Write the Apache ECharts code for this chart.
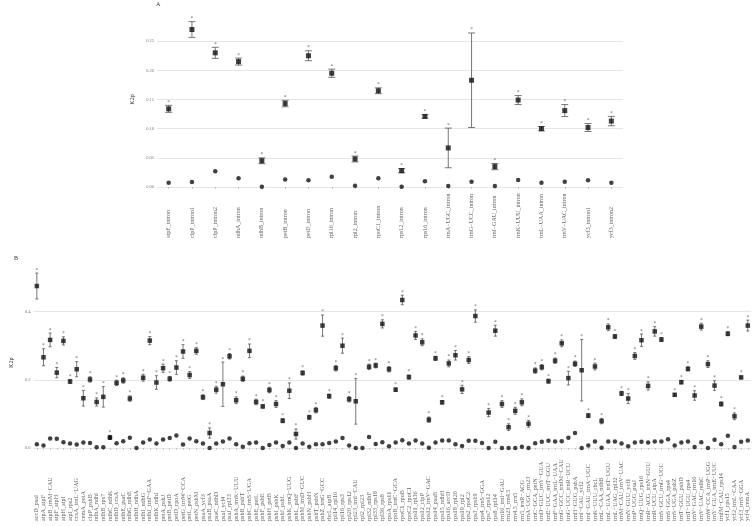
<!DOCTYPE html>
<html>
<head>
<meta charset="utf-8">
<title>K2p</title>
<script src="https://cdn.jsdelivr.net/npm/echarts@6/dist/echarts.min.js"></script>
<style>
  html, body { margin: 0; padding: 0; background: #fff; }
  #main { width: 752px; height: 526px; }
</style>
</head>
<body>
<div id="main"></div>
<script>
// panel A: introns
var aCats = ['atpF_intron', 'clpP_intron1', 'clpP_intron2', 'ndhA_intron', 'ndhB_intron', 'petB_intron',
  'petD_intron', 'rpl16_intron', 'rpl2_intron', 'rpoC1_intron', 'rps12_intron', 'rps16_intron',
  'trnA−UGC_intron', 'trnG−UCC_intron', 'trnI−GAU_intron', 'trnK−UUU_intron', 'trnL−UAA_intron',
  'trnV−UAC_intron', 'ycf3_intron1', 'ycf3_intron2'];
var aMean = [0.134, 0.270, 0.230, 0.215, 0.045, 0.143, 0.225, 0.195, 0.048, 0.165,
  0.028, 0.121, 0.067, 0.183, 0.035, 0.149, 0.100, 0.131, 0.102, 0.113];
var aSe = [0.006, 0.0135, 0.0095, 0.006, 0.005, 0.0055, 0.0085, 0.007, 0.005, 0.005,
  0.0037, 0.003, 0.034, 0.081, 0.0053, 0.0077, 0.0037, 0.0103, 0.0068, 0.008];
var aLow = [0.0074, 0.0086, 0.027, 0.0149, 0.0006, 0.013, 0.0114, 0.0177, 0.0023, 0.015,
  0.0006, 0.0097, 0.0017, 0.0091, 0.0017, 0.012, 0.0074, 0.009, 0.0114, 0.0074];

// panel B: intergenic spacers
var bCats = ['accD_psaI', 'atpA_atpF', 'atpB_trnM−CAU', 'atpF_atpH', 'atpH_atpI', 'atpI_rps2',
  'ccsA_trnL−UAG', 'cemA_petA', 'clpP_psbB', 'ndhA_ndhI', 'ndhB_rps7', 'ndhC_ndhK', 'ndhD_ccsA',
  'ndhE_psaC', 'ndhG_ndhE', 'ndhH_ndhA', 'ndhI_ndhG', 'ndhJ_trnF−GAA', 'ndhK_ndhJ', 'petA_psbJ',
  'petB_petD', 'petD_rpoA', 'petG_trnW−CCA', 'petL_petG', 'petN_psbM', 'psaA_ycf3', 'psaB_psaA',
  'psaC_ndhD', 'psaI_ycf4', 'psaJ_rpl33', 'psbA_trnK−UUU', 'psbB_psbT', 'psbC_trnS−UGA',
  'psbE_petL', 'psbF_psbE', 'psbH_petB', 'psbI_psbK', 'psbJ_psbL', 'psbK_trnQ−UUG', 'psbL_psbF',
  'psbM_trnD−GUC', 'psbN_psbH', 'psbT_psbN', 'psbZ_trnG−GCC', 'rbcL_atpB', 'rpl14_rpl16',
  'rpl16_rps3', 'rpl20_rps12', 'rpl23_trnI−CAU', 'rpl2_rpl23', 'rpl32_ndhF', 'rpl33_rps18',
  'rpl36_rps8', 'rpoA_rps11', 'rpoB_trnC−GCA', 'rpoC1_rpoB', 'rpoC2_rpoC1', 'rps11_rpl36',
  'rps12_clpP', 'rps12_trnV−GAC', 'rps14_psaB', 'rps15_ndhH', 'rps16_accD', 'rps18_rpl20',
  'rps19_rpl2', 'rps2_rpoC2', 'rps3_rps19', 'rps4_trnS−GGA', 'rps7_rps12', 'rps8_rpl14',
  'rrn16_trnI−GAU', 'rrn23_rrn4.5', 'rrn4.5_rrn5', 'rrn5_trnR−ACG', 'trnA−UGC_rrn23',
  'trnC−GCA_petN', 'trnD−GUC_trnY−GUA', 'trnE−UUC_trnT−GGU', 'trnF−GAA_trnL−UAA',
  'trnG−GCC_trnfM−CAU', 'trnG−UCC_trnR−UCU', 'trnH−GUG_psbA', 'trnI−CAU_ycf2',
  'trnI−GAU_trnA−UGC', 'trnK−UUU_rbcL', 'trnL−CAA_ndhB', 'trnL−UAA_trnT−UGU', 'trnL−UAG_rpl32',
  'trnM−CAU_trnV−UAC', 'trnN−GUU_ycf1', 'trnP−UGG_psaJ', 'trnQ−UUG_rps16', 'trnR−ACG_trnN−GUU',
  'trnR−UCU_atpA', 'trnS−GCU_trnG−UCC', 'trnS−GGA_rps4', 'trnS−UGA_psbZ', 'trnT−GGU_psbD',
  'trnT−UGU_rps4', 'trnV−GAC_rrn16', 'trnV−UAC_ndhC', 'trnW−CCA_trnP−UGG', 'trnY−GUA_trnE−UUC',
  'trnfM−CAU_rps14', 'ycf1_rps15', 'ycf2_trnL−CAA', 'ycf3_trnS−GGA', 'ycf4_cemA'];
var bMean = [0.475, 0.266, 0.317, 0.221, 0.314, 0.195, 0.231, 0.146, 0.201, 0.135,
  0.150, 0.031, 0.191, 0.198, 0.145, null, 0.206, 0.315, 0.192, 0.234,
  0.203, 0.236, 0.283, 0.214, 0.285, 0.149, 0.044, 0.171, 0.187, 0.269,
  0.140, 0.203, 0.285, 0.135, 0.122, 0.170, 0.129, 0.080, 0.168, 0.041,
  0.220, 0.090, 0.111, 0.359, 0.152, 0.234, 0.300, 0.143, 0.137, null,
  0.238, 0.242, 0.364, 0.231, 0.171, 0.434, 0.208, 0.330, 0.310, 0.083,
  0.263, 0.134, 0.248, 0.272, 0.172, 0.258, 0.387, null, 0.104, 0.344,
  0.129, 0.061, 0.109, 0.134, 0.071, 0.227, 0.237, 0.196, 0.256, 0.307,
  0.205, 0.247, 0.228, 0.095, 0.239, 0.079, 0.354, 0.327, 0.160, 0.145,
  0.270, 0.316, 0.182, 0.342, 0.318, null, 0.156, 0.193, 0.232, 0.154,
  0.356, 0.246, 0.183, 0.129, 0.335, 0.093, 0.207, 0.359];
var bSe = [0.038, 0.025, 0.020, 0.015, 0.012, 0.006, 0.022, 0.023, 0.008, 0.012,
  0.030, 0.006, 0.008, 0.008, 0.008, 0, 0.010, 0.012, 0.020, 0.012,
  0.007, 0.020, 0.020, 0.010, 0.010, 0.007, 0.015, 0.010, 0.065, 0.008,
  0.010, 0.008, 0.020, 0.008, 0.005, 0.008, 0.010, 0.006, 0.023, 0.015,
  0.006, 0.006, 0.008, 0.031, 0.006, 0.008, 0.022, 0.008, 0.067, 0,
  0.008, 0.007, 0.012, 0.008, 0.005, 0.014, 0.006, 0.012, 0.010, 0.008,
  0.006, 0.005, 0.010, 0.014, 0.012, 0.010, 0.018, 0, 0.012, 0.016,
  0.010, 0.010, 0.010, 0.010, 0.010, 0.008, 0.008, 0.006, 0.008, 0.010,
  0.020, 0.008, 0.090, 0.006, 0.010, 0.008, 0.010, 0.006, 0.006, 0.015,
  0.010, 0.018, 0.012, 0.014, 0.006, 0, 0.004, 0.005, 0.006, 0.014,
  0.010, 0.010, 0.014, 0.006, 0.006, 0.010, 0.004, 0.016];
var bLow = [0.011, 0.007, 0.028, 0.027, 0.017, 0.013, 0.010, 0.016, 0.015, 0.002,
  0.002, 0.030, 0.014, 0.020, 0.030, 0.000, 0.016, 0.025, 0.013, 0.025,
  0.029, 0.037, 0.010, 0.028, 0.020, 0.013, 0.000, 0.013, 0.019, 0.028,
  0.011, 0.004, 0.014, 0.016, 0.000, 0.009, 0.016, 0.006, 0.016, 0.000,
  0.013, 0.004, 0.011, 0.011, 0.015, 0.019, 0.029, 0.007, 0.000, 0.000,
  0.032, 0.012, 0.017, 0.005, 0.016, 0.023, 0.013, 0.022, 0.013, 0.001,
  0.016, 0.022, 0.022, 0.011, 0.006, 0.021, 0.021, 0.015, 0.000, 0.018,
  0.000, 0.000, 0.000, 0.004, 0.000, 0.014, 0.018, 0.021, 0.019, 0.020,
  0.030, 0.044, 0.000, 0.007, 0.019, 0.001, 0.019, 0.019, 0.013, 0.005,
  0.016, 0.018, 0.016, 0.019, 0.019, 0.026, 0.007, 0.016, 0.019, 0.003,
  0.017, 0.000, 0.024, 0.011, 0.036, 0.003, 0.018, 0.022];

var serif = 'Liberation Serif';
var myChart = echarts.init(document.getElementById('main'));

function errBars(mean, se, capW, xi, yi, color) {
  var data = [];
  for (var i = 0; i < mean.length; i++) {
    if (mean[i] == null || !se[i]) continue;
    data.push([i, mean[i] - se[i], mean[i] + se[i]]);
  }
  return {
    type: 'custom',
    xAxisIndex: xi,
    yAxisIndex: yi,
    silent: true,
    data: data,
    renderItem: function (params, api) {
      var x = api.coord([api.value(0), api.value(1)])[0];
      var y0 = api.coord([api.value(0), api.value(1)])[1];
      var y1 = api.coord([api.value(0), api.value(2)])[1];
      var st = { stroke: color, lineWidth: 0.8 };
      return {
        type: 'group',
        children: [
          { type: 'line', shape: { x1: x, y1: y0, x2: x, y2: y1 }, style: st },
          { type: 'line', shape: { x1: x - capW, y1: y0, x2: x + capW, y2: y0 }, style: st },
          { type: 'line', shape: { x1: x - capW, y1: y1, x2: x + capW, y2: y1 }, style: st }
        ]
      };
    }
  };
}

function stars(mean, se, xi, yi, fs) {
  var data = [];
  for (var i = 0; i < mean.length; i++) {
    if (mean[i] == null) continue;
    data.push([i, mean[i] + (se[i] || 0)]);
  }
  return {
    type: 'scatter', xAxisIndex: xi, yAxisIndex: yi, silent: true,
    symbolSize: 0, data: data, clip: false,
    label: { show: true, formatter: '*', position: 'top', distance: 0,
      fontSize: fs, color: '#444', fontFamily: serif }
  };
}

// labels hang from a common baseline below the axis (start of text aligned)
function catAxis(cats, gi, fs, margin) {
  return {
    type: 'category', gridIndex: gi, data: cats, offset: 6,
    axisLine: { show: false },
    axisTick: { show: true, alignWithLabel: true, length: 2, lineStyle: { color: '#aaa', width: 0.6 } },
    axisLabel: { interval: 0, rotate: 90, align: 'left', fontSize: fs, fontFamily: serif,
      color: '#666', margin: margin },
    splitLine: { show: false }
  };
}

function valAxis(gi, max, step, digits, fs, gap) {
  return {
    type: 'value', gridIndex: gi, min: 0, max: max, interval: step,
    name: 'K2p', nameLocation: 'middle', nameGap: gap, nameRotate: 90,
    nameTextStyle: { fontSize: 6, fontFamily: serif, color: '#333' },
    axisLine: { show: false },
    axisTick: { show: false },
    axisLabel: { fontSize: fs, fontFamily: serif, color: '#777', margin: 3, showMaxLabel: false,
      formatter: function (v) { return v.toFixed(digits); } },
    splitLine: { show: true, showMaxLine: false, lineStyle: { color: '#e0e0e0', width: 0.8 } }
  };
}

function idx(arr) {
  return arr.map(function (v, i) { return v == null ? null : [i, v]; }).filter(function (d) { return d; });
}

var option = {
  animation: false,
  backgroundColor: '#fff',
  graphic: [
    { type: 'text', left: 156, top: 1, style: { text: 'A', fontSize: 6, fontFamily: serif, fill: '#333' } },
    { type: 'text', left: 14, top: 255, style: { text: 'B', fontSize: 6, fontFamily: serif, fill: '#333' } }
  ],
  grid: [
    { left: 157, top: 12, width: 466, height: 175 },
    { left: 12.6, top: 277.5, width: 738.5, height: 170.5 }
  ],
  xAxis: [catAxis(aCats, 0, 6, 45), catAxis(bCats, 1, 6.2, 67)],
  yAxis: [valAxis(0, 0.30, 0.05, 2, 4.5, 14), valAxis(1, 0.5, 0.2, 1, 4.5, 8)],
  series: [
    errBars(aMean, aSe, 3.5, 0, 0, '#555'),
    { type: 'scatter', xAxisIndex: 0, yAxisIndex: 0, symbol: 'rect', symbolSize: 5, clip: false,
      itemStyle: { color: '#111' }, data: idx(aMean) },
    { type: 'scatter', xAxisIndex: 0, yAxisIndex: 0, symbol: 'circle', symbolSize: 4.5, clip: false,
      itemStyle: { color: '#111' }, data: idx(aLow) },
    stars(aMean, aSe, 0, 0, 5.5),
    errBars(bMean, bSe, 1.5, 1, 1, '#555'),
    { type: 'scatter', xAxisIndex: 1, yAxisIndex: 1, symbol: 'rect', symbolSize: 4.5, clip: false,
      itemStyle: { color: '#111' }, data: idx(bMean) },
    { type: 'scatter', xAxisIndex: 1, yAxisIndex: 1, symbol: 'circle', symbolSize: 4.5, clip: false,
      itemStyle: { color: '#111' }, data: idx(bLow) },
    stars(bMean, bSe, 1, 1, 5.5)
  ]
};
myChart.setOption(option);
</script>
</body>
</html>
